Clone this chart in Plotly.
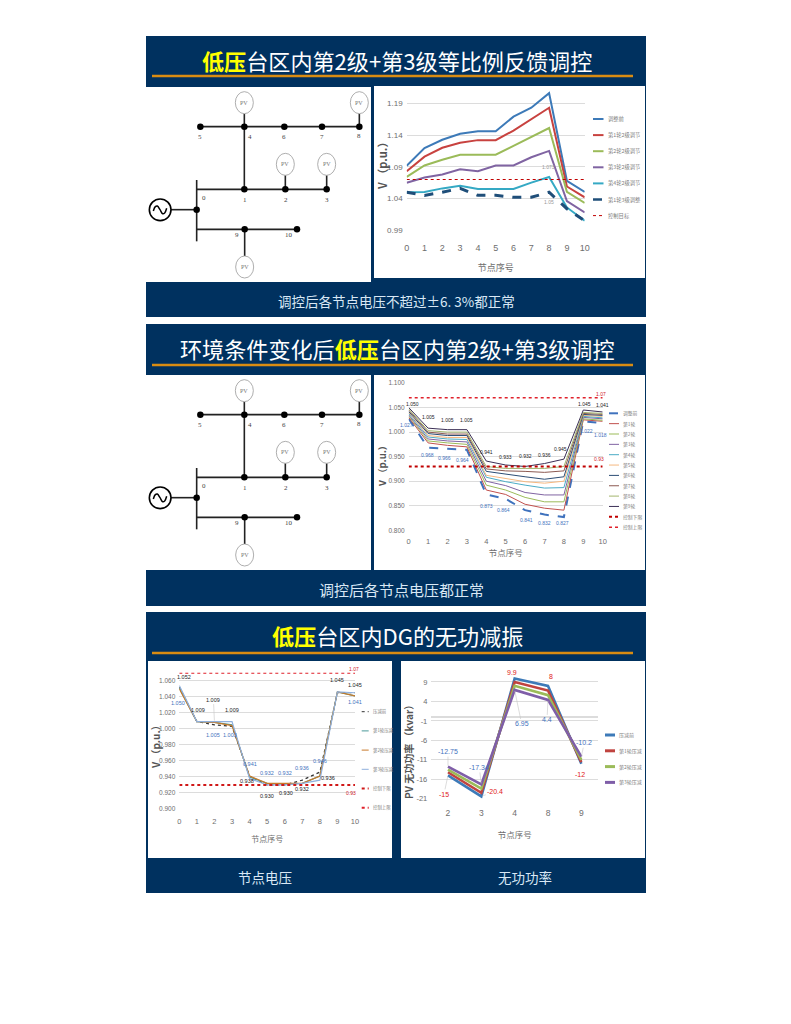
import plotly.graph_objects as go

# ---------- data ----------
nodes = list(range(11))
pv_nodes = ["2", "3", "4", "8", "9"]

c1_names = ["调整前", "第1轮2级调节", "第2轮2级调节", "第3轮2级调节", "第4轮2级调节", "第1轮3级调整", "控制目标"]
c1_before = [1.0916, 1.1195, 1.1326, 1.142, 1.146, 1.146, 1.169, 1.183, 1.206, 1.068, 1.0505]
c1_r1 = [1.083, 1.106, 1.12, 1.128, 1.132, 1.132, 1.147, 1.165, 1.183, 1.059, 1.042]
c1_r2 = [1.074, 1.092, 1.101, 1.109, 1.109, 1.109, 1.123, 1.137, 1.151, 1.0505, 1.033]
c1_r3 = [1.065, 1.073, 1.078, 1.086, 1.083, 1.092, 1.092, 1.105, 1.115, 1.036, 1.018]
c1_r4 = [1.05, 1.0505, 1.056, 1.06, 1.055, 1.055, 1.055, 1.065, 1.074, 1.026, 1.005]
c1_l3 = [1.05, 1.045, 1.05, 1.056, 1.045, 1.045, 1.042, 1.042, 1.05, 1.024, 1.005]
c1_target = [1.07] * 11

c2_names = ["调整前", "第1轮", "第2轮", "第3轮", "第4轮", "第5轮", "第6轮", "第7轮", "第8轮", "第9轮", "控制下限", "控制上限"]
c2_before = [1.027, 0.968, 0.966, 0.964, 0.873, 0.864, 0.841, 0.832, 0.827, 1.022, 1.018]
c2_r1 = [1.03, 0.978, 0.973, 0.970, 0.882, 0.873, 0.853, 0.845, 0.841, 1.025, 1.022]
c2_r2 = [1.033, 0.982, 0.978, 0.975, 0.892, 0.882, 0.867, 0.858, 0.858, 1.027, 1.024]
c2_r3 = [1.035, 0.986, 0.982, 0.980, 0.900, 0.891, 0.877, 0.872, 0.872, 1.03, 1.027]
c2_r4 = [1.038, 0.990, 0.986, 0.985, 0.908, 0.899, 0.892, 0.886, 0.887, 1.032, 1.029]
c2_r5 = [1.04, 0.993, 0.989, 0.989, 0.912, 0.905, 0.899, 0.896, 0.900, 1.034, 1.032]
c2_r6 = [1.042, 0.997, 0.993, 0.993, 0.920, 0.914, 0.909, 0.904, 0.909, 1.036, 1.034]
c2_r7 = [1.045, 1.0, 0.996, 0.996, 0.925, 0.921, 0.920, 0.918, 0.921, 1.038, 1.036]
c2_r8 = [1.047, 1.003, 1.0, 1.0, 0.93, 0.926, 0.926, 0.926, 0.930, 1.04, 1.038]
c2_r9 = [1.05, 1.008, 1.005, 1.005, 0.941, 0.933, 0.930, 0.936, 0.945, 1.045, 1.041]
c2_low = [0.93] * 11
c2_up = [1.07] * 11

c3_names = ["压减前", "第1轮压减", "第2轮压减", "第3轮压减", "控制下限", "控制上限"]
c3_before = [1.052, 1.009, 1.005, 1.003, 0.941, 0.930, 0.930, 0.936, 0.946, 1.045, 1.045]
c3_r1 = [1.051, 1.009, 1.008, 1.005, 0.940, 0.932, 0.931, 0.932, 0.941, 1.046, 1.041]
c3_r2 = [1.05, 1.009, 1.008, 1.004, 0.941, 0.932, 0.932, 0.932, 0.941, 1.046, 1.041]
c3_r3 = [1.054, 1.009, 1.009, 1.009, 0.938, 0.930, 0.930, 0.932, 0.936, 1.046, 1.045]
c3_low = [0.93] * 11
c3_up = [1.07] * 11

c4_names = ["压减前", "第1轮压减", "第2轮压减", "第3轮压减"]
c4_before = [-15, -20.4, 9.9, 8, -12]
c4_r1 = [-14.2, -19.5, 9, 6.8, -11.6]
c4_r2 = [-13.5, -18.4, 8, 5.6, -11]
c4_r3 = [-12.75, -17.34, 6.95, 4.4, -10.2]
c4_ticks = [9, 4, -1, -6, -11, -16, -21]

# one-line diagram (own coordinate system, y downward)
net_nodes_x = [163, 295, 415, 528, 640, 295, 418, 542, 152, 296, 453]
net_nodes_y = [122, 122, 122, 122, 122, 310, 310, 310, 371, 430, 430]
net_lines = [
    ((163, 122), (640, 122)), ((295, 122), (295, 310)), ((152, 310), (542, 310)),
    ((152, 282), (152, 466)), ((152, 430), (453, 430)), ((75, 371), (152, 371)),
    ((295, 83), (295, 122)), ((640, 83), (640, 122)), ((418, 268), (418, 310)),
    ((542, 268), (542, 310)), ((296, 430), (296, 510)),
]
net_pv = [(295, 50), (640, 50), (418, 235), (542, 235), (296, 543)]
net_labels = [("5", 163, 153), ("4", 313, 153), ("6", 415, 153), ("7", 528, 153), ("8", 640, 149),
              ("0", 174, 337), ("1", 297, 343), ("2", 420, 343), ("3", 543, 343), ("9", 274, 447), ("10", 430, 447)]
wave_x = [22, 28, 34, 42, 50, 56, 62]
wave_y = [375, 362, 360, 371, 383, 381, 367]

W, H = 791, 1024
NAVY = "#00315f"
CJK = "Noto Sans CJK SC"
LAT = "Liberation Sans"
GRID = "#dcdcdc"
TICK = "#6e6e6e"

def X(px): return px / W
def Y(px): return 1 - px / H

shapes, annos = [], []
fig = go.Figure()

def rect(x0, y0, x1, y1, color):
    shapes.append(dict(type="rect", xref="paper", yref="paper", x0=X(x0), x1=X(x1), y0=Y(y0), y1=Y(y1),
                       fillcolor=color, line=dict(width=0), layer="below"))

def text(x, y, t, size, color, font=CJK, anchor="center", angle=0):
    annos.append(dict(xref="paper", yref="paper", x=X(x), y=Y(y), text=t, showarrow=False, xanchor=anchor,
                      yanchor="middle", textangle=angle, font=dict(size=size, color=color, family=font)))

def hline(x0, x1, y, color, width):
    shapes.append(dict(type="line", xref="paper", yref="paper", x0=X(x0), x1=X(x1), y0=Y(y), y1=Y(y),
                       line=dict(color=color, width=width), layer="below"))

def slide(top, bottom, title, title_y, line_y, footer_y=None, footer=None, fsize=14, fx=396):
    rect(146, top, 646, bottom, NAVY)
    text(397, title_y, title, 22.1, "#ffffff")
    hline(152, 633, line_y, "#d98c12", 2.6)
    if footer:
        text(fx, footer_y, footer, fsize, "#d9e8f5")

YB = "<b><span style='color:#ffff00'>低压</span></b>"
slide(36, 317, YB + "台区内第2级+第3级等比例反馈调控", 60, 76, 301, "调控后各节点电压不超过±6. 3%都正常", 13.5)
slide(324, 606, "环境条件变化后" + YB + "台区内第2级+第3级调控", 348, 365, 589, "调控后各节点电压都正常", 15, 401.5)
slide(612, 893, YB + "台区内DG的无功减振", 635, 653)
text(265, 877, "节点电压", 13.5, "#d9e8f5")
text(524.5, 877, "无功功率", 13.5, "#d9e8f5")

rect(146, 87, 371, 282, "#ffffff")
rect(374, 86, 645, 278, "#ffffff")
rect(146, 375, 371, 570, "#ffffff")
rect(374, 375, 645, 570, "#ffffff")
rect(148, 661, 392, 858, "#ffffff")
rect(401, 661, 645, 858, "#ffffff")

layout_axes = {}

def chart(idx, x0, x1, ytop, ybot, yrange, yticks, yfmt, xrange, xvals, xtext, tfs, xtitle_size,
          xstandoff, xtitle_standoff, zeroline=False, yticktext=None):
    s = "" if idx == 1 else str(idx)
    layout_axes["xaxis" + s] = dict(
        domain=[X(x0), X(x1)], range=xrange, anchor="y" + s, tickmode="array", tickvals=xvals, ticktext=xtext,
        showgrid=False, zeroline=False, showline=False, ticks="", ticklabelstandoff=xstandoff, automargin=False,
        tickfont=dict(size=tfs + 1, color=TICK, family=LAT),
        title=dict(text="节点序号", font=dict(size=xtitle_size, color="#6e6e6e", family=CJK), standoff=xtitle_standoff))
    ya = dict(
        domain=[Y(ybot), Y(ytop)], range=yrange, anchor="x" + s, tickmode="array", tickvals=yticks, automargin=False,
        tickformat=yfmt, showgrid=True, gridcolor=GRID, gridwidth=1, zeroline=zeroline, zerolinecolor=GRID,
        showline=False, ticks="", ticklabelstandoff=3, tickfont=dict(size=tfs, color=TICK, family=LAT))
    if yticktext:
        ya["ticktext"] = yticktext
    layout_axes["yaxis" + s] = ya

def line(idx, x, y, name, color, width, dash="solid"):
    s = "" if idx == 1 else str(idx)
    fig.add_trace(go.Scatter(x=x, y=y, name=name, mode="lines", xaxis="x" + s, yaxis="y" + s, showlegend=False,
                             line=dict(color=color, width=width, dash=dash), hoverinfo="name+y"))

def legend(names, colors, dashes, widths, kx0, kx1, tx, ytop, step, size):
    for i, n in enumerate(names):
        yy = ytop + i * step
        shapes.append(dict(type="line", xref="paper", yref="paper", x0=X(kx0), x1=X(kx1), y0=Y(yy), y1=Y(yy),
                           line=dict(color=colors[i], width=widths[i], dash=dashes[i])))
        text(tx, yy, n, size, "#808080", anchor="left")

def label(idx, xv, yv, t, color, dx, dy, size, leader=False):
    s = "" if idx == 1 else str(idx)
    a = dict(xref="x" + s, yref="y" + s, x=xv, y=yv, text=t, font=dict(size=size, color=color, family=LAT))
    if leader:
        a.update(showarrow=True, arrowhead=0, arrowwidth=0.6, arrowcolor="#c4c4c4", ax=dx, ay=-dy, standoff=1)
    else:
        a.update(showarrow=False, xshift=dx, yshift=dy)
    annos.append(a)

# ---------- chart 1 ----------
chart(1, 406.7, 584.7, 90.6, 230.3, [0.99, 1.21], [0.99, 1.04, 1.09, 1.14, 1.19], ".2f", [0, 10], nodes,
      [str(n) for n in nodes], 8, 9, 11, 12)
text(382, 164, "<b>V （p.u.）</b>", 11, "#555555", angle=-90)
c1_cols = ["#3d7ab8", "#c8423f", "#9bbb59", "#8064a2", "#35a9c4", "#1f4e79", "#c00000"]
c1_series = [c1_before, c1_r1, c1_r2, c1_r3, c1_r4, c1_l3]
for i, v in enumerate(c1_series):
    line(1, nodes, v, c1_names[i], c1_cols[i], 3 if i == 5 else 2, "dash" if i == 5 else "solid")
line(1, nodes, c1_target, c1_names[6], c1_cols[6], 1.2, "dot")
legend(c1_names, c1_cols, ["solid"] * 5 + ["dash", "dot"], [2] * 5 + [2.5, 1], 593, 603.5, 605.5, 119, 16.1, 5.3)
label(1, 8, 1.074, "1.073", "#999999", -1, 10, 5)
label(1, 8, 1.05, "1.05", "#999999", 0, -10, 5)

# ---------- chart 2 ----------
chart(2, 408.7, 602.7, 383, 530.3, [0.8, 1.1], [0.8, 0.85, 0.9, 0.95, 1.0, 1.05, 1.1], ".3f", [0, 10], nodes,
      [str(n) for n in nodes], 6.5, 8.5, 5, 5)
text(382, 464, "<b>V （p.u.）</b>", 9.5, "#555555", angle=-90)
c2_cols = ["#3f72bd", "#c0504d", "#9bbb59", "#8064a2", "#4bacc6", "#f5b880", "#2c4d75", "#8c5a52", "#a3b56e", "#3b2f55", "#c00000", "#e0212b"]
c2_series = [c2_before, c2_r1, c2_r2, c2_r3, c2_r4, c2_r5, c2_r6, c2_r7, c2_r8, c2_r9]
for i, v in enumerate(c2_series):
    line(2, nodes, v, c2_names[i], c2_cols[i], 2 if i == 0 else 1, "dash" if i == 0 else "solid")
line(2, nodes, c2_low, c2_names[10], c2_cols[10], 2, "dot")
line(2, nodes, c2_up, c2_names[11], c2_cols[11], 1.5, "dot")
legend(c2_names, c2_cols, ["dash"] + ["solid"] * 9 + ["dot", "dot"], [2] + [1] * 9 + [2, 1.5], 609, 619, 621, 413.3, 10.35, 4.8)
c2_top_txt = ["1.050", "1.005", "1.005", "1.005", "0.941", "0.933", "0.932", "0.936", "0.945", "1.045", "1.041"]
c2_top_dx = [4, 0, 0, 0, 0, 0, 0, 0, -3, 1, 0]
c2_top_dy = [4, 11, 10, 10, 9, 8, 10, 9, 10, 6, 7]
c2_bot_txt = ["1.027", "0.968", "0.966", "0.964", "0.873", "0.864", "0.841", "0.832", "0.827", "1.022", "1.018"]
c2_bot_dx = [-2, -1, -3, -4, 0, -2, 1, 0, -1, 3, -2]
c2_bot_dy = [-6, -7, -9, -10, -12, -11, -10, -8, -6, -10, -12]
for n in nodes:
    label(2, n, c2_r9[n], c2_top_txt[n], "#222222", c2_top_dx[n], c2_top_dy[n], 5)
    label(2, n, c2_before[n], c2_bot_txt[n], "#3f72bd", c2_bot_dx[n], c2_bot_dy[n], 5)
label(2, 10, c2_up[10], "1.07", "#d0202a", -2, 4, 5)
label(2, 10, c2_low[10], "0.93", "#d0202a", -4, 7, 5)

# ---------- chart 3 ----------
chart(3, 179.3, 355, 672.7, 809, [0.9, 1.07], [0.9, 0.92, 0.94, 0.96, 0.98, 1.0, 1.02, 1.04, 1.06], ".3f", [0, 10], nodes,
      [str(n) for n in nodes], 6.5, 8, 6, 11)
text(155, 745, "<b>V （p.u.）</b>", 10, "#555555", angle=-90)
c3_cols = ["#333333", "#4a9a9a", "#c87a2a", "#8fb0dd", "#d01818", "#e0212b"]
for i, v in enumerate([c3_before, c3_r1, c3_r2, c3_r3]):
    line(3, nodes, v, c3_names[i], c3_cols[i], 1.2, "dot" if i == 0 else "solid")
line(3, nodes, c3_low, c3_names[4], c3_cols[4], 2, "dot")
line(3, nodes, c3_up, c3_names[5], c3_cols[5], 2, "dot")
legend(c3_names, c3_cols, ["dot", "solid", "solid", "solid", "dot", "dot"], [1, 1, 1, 1, 2, 2], 361.7, 368.7, 371, 711.7, 19.2, 4.4)
for n, s, t, dx, dy in [(0, c3_r3, "1.052", 5, 9), (1, c3_r3, "1.009", 1, 11.5),
                        (3, c3_r3, "1.009", 0, 11.5), (4, c3_r3, "0.938", -3, -2), (5, c3_r3, "0.930", 0, -11),
                        (6, c3_r3, "0.930", 1, -8), (7, c3_r3, "0.932", 0, -6), (8, c3_r3, "0.936", 8, 2),
                        (9, c3_r3, "1.045", 0, 12), (10, c3_r3, "1.045", 0, 8)]:
    label(3, n, s[n], t, "#222222", dx, dy, 5.5)
label(3, 2, c3_r3[2], "1.009", "#222222", -1, 22, 5.5, leader=True)
for n, t, dx, dy in [(0, "1.050", -1, -16), (2, "1.005", -1, -10), (3, "1.003", -2, -9), (4, "0.941", 0, 12),
                     (5, "0.932", 0, 12), (6, "0.932", 0, 12), (7, "0.936", 0, 12), (8, "0.946", 0, 11), (10, "1.041", 0, -6)]:
    label(3, n, c3_before[n] if n != 10 else c3_r2[n], t, "#3f72bd", dx, dy, 5.5)
label(3, 10, c3_up[10], "1.07", "#d0202a", -1, 4, 5)
label(3, 10, c3_low[10], "0.93", "#d0202a", -4, -8, 5)

# ---------- chart 4 ----------
chart(4, 431.3, 598, 674.2, 798.7, [-21, 11], c4_ticks, "d", [-0.5, 4.5], list(range(5)),
      pv_nodes, 7.5, 8.5, 8, 14, zeroline=True, yticktext=[str(t) for t in c4_ticks])
text(408, 750, "<b>PV 无功功率 （kvar）</b>", 10, "#555555", angle=-90)
c4_cols = ["#3d7ab8", "#c0433f", "#9bbb59", "#7f5ea8"]
for i, v in enumerate([c4_before, c4_r1, c4_r2, c4_r3]):
    line(4, list(range(5)), v, c4_names[i], c4_cols[i], 2.6)
legend(c4_names, c4_cols, ["solid"] * 4, [3] * 4, 605, 615, 617, 735, 15.8, 5)
for n, t, dx, dy in [(0, "-12.75", 0, 15), (1, "-17.34", -2, 17), (4, "-10.2", 3, 14)]:
    label(4, n, c4_r3[n], t, "#3f72bd", dx, dy, 7, leader=True)
label(4, 2, c4_r3[2], "6.95", "#3f72bd", 7, -34, 7, leader=True)
label(4, 3, c4_r3[3], "4.4", "#3f72bd", -1, -20, 7, leader=True)
for n, t, dx, dy, ld in [(0, "-15", -4, -19, True), (1, "-20.4", 14, 5, True), (2, "9.9", -3, 6, False),
                         (3, "8", 3, 9, False), (4, "-12", -1, -11, False)]:
    label(4, n, c4_before[n], t, "#e02020", dx, dy, 7, leader=ld)

# ---------- one-line diagrams ----------
def network(idx, left, top):
    s = str(idx)
    layout_axes["xaxis" + s] = dict(domain=[X(left), X(left + 228)], range=[0, 684], visible=False, anchor="y" + s, automargin=False)
    layout_axes["yaxis" + s] = dict(domain=[Y(top + 196), Y(top)], range=[588, 0], visible=False, anchor="x" + s, automargin=False)
    xs, ys = [], []
    for a, b in net_lines:
        xs += [a[0], b[0], None]
        ys += [a[1], b[1], None]
    fig.add_trace(go.Scatter(x=xs, y=ys, mode="lines", line=dict(color="#222222", width=1.6), xaxis="x" + s, yaxis="y" + s,
                             showlegend=False, hoverinfo="skip"))
    fig.add_trace(go.Scatter(x=net_nodes_x, y=net_nodes_y, mode="markers", marker=dict(color="#000000", size=6.5),
                             xaxis="x" + s, yaxis="y" + s, showlegend=False, hoverinfo="skip"))
    fig.add_trace(go.Scatter(x=wave_x, y=wave_y, mode="lines", line=dict(color="#000000", width=1.5, shape="spline"),
                             xaxis="x" + s, yaxis="y" + s, showlegend=False, hoverinfo="skip"))
    shapes.append(dict(type="circle", xref="x" + s, yref="y" + s, x0=10, x1=75, y0=339, y1=404,
                       line=dict(color="#000000", width=1.6)))
    for cx, cy in net_pv:
        shapes.append(dict(type="circle", xref="x" + s, yref="y" + s, x0=cx - 27, x1=cx + 27, y0=cy - 33, y1=cy + 33,
                           line=dict(color="#999999", width=0.8), fillcolor="#ffffff"))
        annos.append(dict(xref="x" + s, yref="y" + s, x=cx, y=cy, text="PV", showarrow=False,
                          font=dict(size=6, color="#777777", family="Liberation Serif")))
    for t, lx, ly in net_labels:
        annos.append(dict(xref="x" + s, yref="y" + s, x=lx, y=ly, text=t, showarrow=False,
                          font=dict(size=7, color="#444444", family="Liberation Serif")))

network(5, 146, 86)
network(6, 146, 374)

fig.update_layout(width=W, height=H, margin=dict(l=0, r=0, t=0, b=0, autoexpand=False), paper_bgcolor="#ffffff", plot_bgcolor="rgba(0,0,0,0)",
                  showlegend=False, shapes=shapes, annotations=annos, **layout_axes)
fig.write_html("out.html", config={"displayModeBar": False},
               post_script="document.body.style.margin='0';document.body.style.overflow='hidden';")
